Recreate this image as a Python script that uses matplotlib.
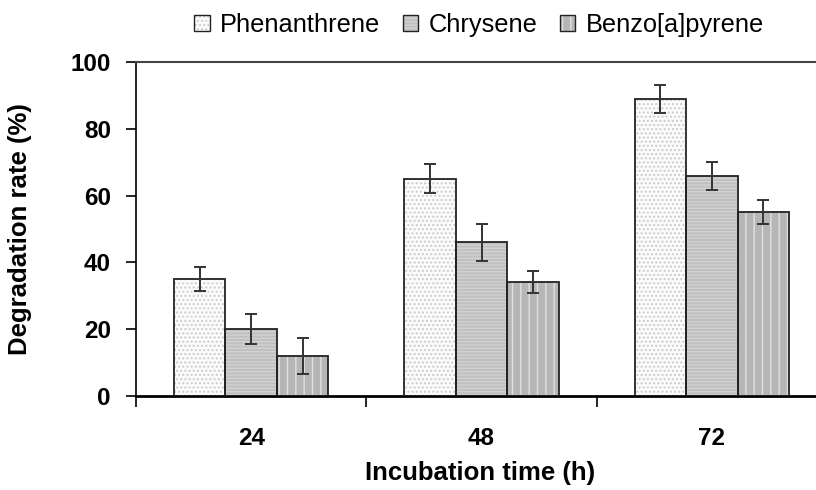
import matplotlib.pyplot as plt
import matplotlib.patches as mpatches
import numpy as np

plt.rcParams['font.family'] = ['Liberation Sans', 'DejaVu Sans']
plt.rcParams['hatch.linewidth'] = 1.0

times = ["24", "48", "72"]
series = ["Phenanthrene", "Chrysene", "Benzo[a]pyrene"]
phenanthrene = [35.0, 65.1, 88.9]
chrysene = [20.1, 46.0, 66.0]
benzo = [12.1, 34.1, 55.1]
phen_err = [3.6, 4.3, 4.3]
chry_err = [4.4, 5.6, 4.2]
benzo_err = [5.4, 3.3, 3.6]

# face colour, hatch colour, hatch
styles = [("#fbfbfb", "#cccccc", "...."),
          ("#c0c0c0", "#d2d2d2", "-----"),
          ("#b6b6b6", "#e0e0e0", "||")]

fig = plt.figure(figsize=(8.16, 4.9), dpi=100)
ax = fig.add_axes([136 / 816, 1 - 396 / 490, 691 / 816, 334 / 490])

x = np.arange(len(times))
w = 0.223
values = [phenanthrene, chrysene, benzo]
errors = [phen_err, chry_err, benzo_err]
handles = []
for i, (vals, errs) in enumerate(zip(values, errors)):
    fc, hc, hatch = styles[i]
    pos = x + (i - 1) * w
    ax.bar(pos, vals, w, color=fc, edgecolor=hc, hatch=hatch, linewidth=0, zorder=2)
    ax.bar(pos, vals, w, fill=False, edgecolor="#222222", linewidth=1.3, zorder=3)
    ax.errorbar(pos, vals, yerr=errs, fmt="none", ecolor="#333333",
                elinewidth=1.4, capsize=4, capthick=1.4, zorder=4)
    fill = mpatches.Patch(facecolor=fc, edgecolor=hc, hatch=hatch, linewidth=0)
    border = mpatches.Patch(fill=False, edgecolor="#222222", linewidth=1.0)
    handles.append((fill, border))

ax.set_xlim(-0.5, 2.5)
ax.set_ylim(0, 100)
ax.set_yticks(range(0, 101, 20))
ax.set_xticks(x)
ax.set_xticklabels(times)
ax.set_xticks([-0.5, 0.5, 1.5, 2.5], minor=True)
ax.tick_params(axis="x", which="major", length=0, pad=22, labelsize=17.5)
ax.tick_params(axis="x", which="minor", length=8, width=1.2, direction="out")
ax.tick_params(axis="y", length=7, width=1.2, direction="out", labelsize=17.5, pad=11)
for lab in ax.get_xticklabels() + ax.get_yticklabels():
    lab.set_fontweight("bold")

ax.spines["right"].set_visible(False)
ax.spines["left"].set_linewidth(1.2)
ax.spines["bottom"].set_linewidth(2.0)
ax.spines["top"].set_linewidth(1.5)
ax.spines["top"].set_color("#444444")

ax.set_ylabel("Degradation rate (%)", fontsize=18.5, fontweight="bold")
ax.set_xlabel("Incubation time (h)", fontsize=18.5, fontweight="bold")
ax.xaxis.set_label_coords((480 - 136) / 691, -(461 - 396) / 334)
ax.yaxis.set_label_coords(-(136 - 32) / 691, 0.5)

fig.legend(handles=handles, labels=series, loc="center",
           bbox_to_anchor=(479 / 816, 1 - 25 / 490),
           ncol=3, frameon=False, fontsize=18.3, handlelength=0.6, handleheight=0.6,
           handletextpad=0.4, columnspacing=0.9, borderpad=0.2)

fig.savefig("out.png", dpi=100)
